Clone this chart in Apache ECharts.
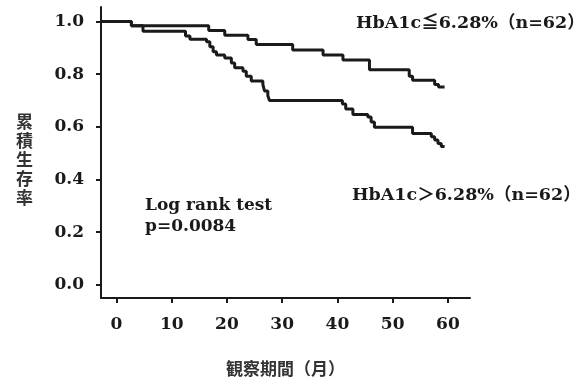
<!DOCTYPE html>
<html><head><meta charset="utf-8">
<script src="https://cdn.jsdelivr.net/npm/echarts@6/dist/echarts.min.js"></script>
<style>html,body{margin:0;padding:0;background:#fff}#c{width:579px;height:382px}</style>
</head><body><div id="c"></div>
<script>
// Group HbA1c <= 6.28% (n=62)
const lowTimes = [-2.8, 2.7, 16.7, 19.6, 23.8, 25.3, 31.9, 37.4, 41.0, 45.8, 53.0, 53.6, 57.6, 58.3, 59.4];
const lowSurv  = [1.0, 0.984, 0.966, 0.948, 0.932, 0.913, 0.892, 0.873, 0.854, 0.817, 0.792, 0.777, 0.761, 0.751, 0.751];
// Group HbA1c > 6.28% (n=62)
const highTimes = [-2.8, 2.7, 4.8, 12.5, 13.3, 16.3, 16.9, 17.5, 18.1, 19.6, 20.8, 21.4, 22.9, 23.5, 24.4, 26.5, 26.8, 27.4, 27.7, 40.9, 41.5, 42.8, 45.5, 46.1, 46.7, 53.6, 57.0, 57.6, 58.2, 58.8, 59.4];
const highSurv  = [1.0, 0.984, 0.963, 0.945, 0.933, 0.923, 0.904, 0.885, 0.873, 0.861, 0.842, 0.824, 0.811, 0.792, 0.774, 0.761, 0.736, 0.718, 0.700, 0.687, 0.668, 0.647, 0.637, 0.618, 0.598, 0.575, 0.562, 0.550, 0.537, 0.525, 0.525];
const xTicks = [0, 10, 20, 30, 40, 50, 60];
const yTicks = [0, 0.2, 0.4, 0.6, 0.8, 1.0];
const labelLow = 'HbA1c≦6.28%（n=62）';
const labelHigh = 'HbA1c＞6.28%（n=62）';
const testText = 'Log rank test\np=0.0084';
const xName = '観察期間（月）';
const yName = '累積生存率';

const serif = '"DejaVu Serif", "Liberation Serif", "Noto Sans CJK JP", serif';
const ink = '#1a1a1a';
const chart = echarts.init(document.getElementById('c'));
const zip = (a, b) => a.map((t, i) => [t, b[i]]);
chart.setOption({
  animation: false,
  grid: { left: 101, right: 109, top: 7, bottom: 79 },
  xAxis: {
    type: 'value', min: -2.8, max: 64,
    name: xName, nameLocation: 'middle', nameGap: 62,
    nameTextStyle: { fontFamily: '"Noto Sans CJK JP"', fontWeight: 'bold', fontSize: 17, color: '#333' },
    axisLine: { show: true, onZero: false, lineStyle: { color: ink, width: 2 } },
    axisTick: { show: true, customValues: xTicks, length: 5, lineStyle: { color: ink, width: 2 } },
    axisLabel: { customValues: xTicks, margin: 18, fontFamily: serif, fontWeight: 'bold', fontSize: 17, color: ink },
    splitLine: { show: false }
  },
  yAxis: {
    type: 'value', min: -0.05, max: 1.055,
    axisLine: { show: true, onZero: false, lineStyle: { color: ink, width: 2 } },
    axisTick: { show: true, customValues: yTicks, length: 5, lineStyle: { color: ink, width: 2 } },
    axisLabel: { customValues: yTicks, margin: 17, fontFamily: serif, fontWeight: 'bold', fontSize: 17, color: ink,
      formatter: v => v.toFixed(1) },
    splitLine: { show: false }
  },
  graphic: [
    { type: 'text', left: 16, top: 112, style: { text: yName.split('').join('\n'), font: 'bold 17px "Noto Sans CJK JP"', fill: '#333', lineHeight: 19 } },
    { type: 'text', left: 356, top: 15, style: { text: labelLow, font: 'bold 17.5px ' + serif, fill: ink } },
    { type: 'text', left: 352, top: 187, style: { text: labelHigh, font: 'bold 17.5px ' + serif, fill: ink } },
    { type: 'text', left: 145, top: 195, style: { text: testText, font: 'bold 17px ' + serif, fill: ink, lineHeight: 21 } }
  ],
  series: [
    { type: 'line', step: 'end', data: zip(lowTimes, lowSurv), showSymbol: false, lineStyle: { color: ink, width: 3 } },
    { type: 'line', step: 'end', data: zip(highTimes, highSurv), showSymbol: false, lineStyle: { color: ink, width: 3 } }
  ]
});
</script></body></html>
